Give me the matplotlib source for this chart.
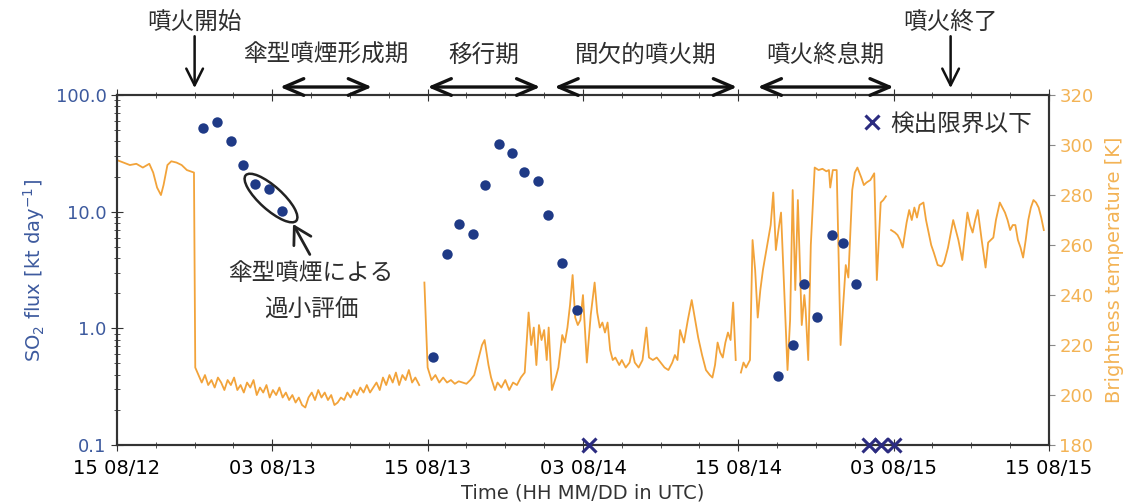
import numpy as np
import matplotlib
matplotlib.use("Agg")
import matplotlib.pyplot as plt
from matplotlib.ticker import MultipleLocator, LogLocator, NullFormatter
from matplotlib.patches import Ellipse
import matplotlib.transforms as mtransforms

plt.rcParams["font.family"] = ["DejaVu Sans", "Noto Sans CJK JP"]

# hours since 15 UTC 08/12
x_ticks = [0, 12, 24, 36, 48, 60, 72]
x_tick_labels = ["15 08/12", "03 08/13", "15 08/13", "03 08/14", "15 08/14", "03 08/15", "15 08/15"]
y_ticks = [0.1, 1, 10, 100]
y_tick_labels = ["0.1", "1.0", "10.0", "100.0"]

# SO2 flux (kt/day)
flux_hours = [6.65, 7.75, 8.8, 9.76, 10.7, 11.75, 12.75,
              24.4, 25.5, 26.4, 27.5, 28.4, 29.5, 30.5, 31.45, 32.5, 33.3, 34.4, 35.5,
              51.1, 52.2, 53.1, 54.1, 55.2, 56.1, 57.1]
flux = [52.5, 59, 40, 25, 17.2, 15.6, 10.1,
        0.57, 4.3, 7.8, 6.4, 16.9, 38, 31.7, 22, 18.5, 9.3, 3.6, 1.44,
        0.39, 0.72, 2.39, 1.24, 6.3, 5.36, 2.39]

# below detection limit
bdl_hours = [36.5, 58.1, 59.0, 60.0]
bdl_flux = [0.1, 0.1, 0.1, 0.1]

# brightness temperature (K), nan = gap
bt_hours = [0, 0.5, 1.0, 1.5, 2.0, 2.5, 2.8, 3.1, 3.4, 3.6, 3.9, 4.2, 4.6, 5.0, 5.4, 5.95,
            6.05, 6.3, 6.55, 6.8, 7.05, 7.3, 7.55, 7.8, 8.05, 8.3, 8.55, 8.8, 9.05, 9.3, 9.55, 9.8,
            10.05, 10.3, 10.55, 10.8, 11.05, 11.3, 11.55, 11.8, 12.05, 12.3, 12.55, 12.8, 13.05, 13.3,
            13.55, 13.8, 14.05, 14.3, 14.55, 14.8, 15.05, 15.3, 15.55, 15.8, 16.05, 16.3, 16.55, 16.8,
            17.05, 17.3, 17.55, 17.8, 18.05, 18.3, 18.55, 18.8, 19.05, 19.3, 19.55, 19.8, 20.05, 20.3,
            20.55, 20.8, 21.05, 21.3, 21.55, 21.8, 22.05, 22.3, 22.55, 22.8, 23.05, 23.35,
            23.55,
            23.75, 24.0, 24.3, 24.6, 24.9, 25.2, 25.5, 25.8, 26.1, 26.4, 26.7, 27.0, 27.3, 27.6, 27.9,
            28.2, 28.4, 28.7, 28.9, 29.2, 29.4, 29.7, 30.0, 30.3, 30.6, 30.9, 31.2, 31.5, 31.8, 32.0,
            32.2, 32.4, 32.6, 32.8, 33.0, 33.2, 33.35, 33.6, 33.9, 34.1, 34.4, 34.6, 34.8, 35.0, 35.2,
            35.4, 35.6, 35.8, 36.0, 36.3, 36.6, 36.9, 37.1, 37.3, 37.5, 37.7, 37.9, 38.1, 38.3, 38.5,
            38.8, 39.0, 39.3, 39.6, 39.8, 40.0, 40.3, 40.6, 40.9, 41.1, 41.4, 41.7, 42.0, 42.3, 42.6,
            42.9, 43.1, 43.3, 43.5, 43.8, 44.1, 44.4, 44.7, 44.9, 45.2, 45.5, 45.8, 46.0, 46.2, 46.4,
            46.6, 46.8, 47.0, 47.2, 47.4, 47.6, 47.8,
            48.0,
            48.2, 48.4, 48.6, 48.9, 49.1, 49.3, 49.5, 49.7, 49.9, 50.2, 50.5, 50.7, 50.9, 51.1, 51.3,
            51.5, 51.8, 52.0, 52.2, 52.4, 52.6, 52.8, 52.9, 53.1, 53.2, 53.4, 53.6, 53.9, 54.2, 54.5,
            54.8, 55.0, 55.1, 55.3, 55.6, 55.9, 56.1, 56.3, 56.5, 56.8, 57.0, 57.2, 57.5, 57.7, 57.9,
            58.2, 58.5, 58.7, 59.0, 59.2, 59.4,
            59.6,
            59.8, 60.1, 60.3, 60.5, 60.7, 61.0, 61.2, 61.4, 61.6, 61.8, 62.0, 62.3, 62.5, 62.7, 62.9,
            63.1, 63.4, 63.7, 63.9, 64.2, 64.6, 64.8, 65.0, 65.3, 65.7, 65.9, 66.1, 66.3, 66.5, 66.8,
            67.1, 67.3, 67.5, 67.7, 67.9, 68.2, 68.4, 68.6, 68.8, 69.0, 69.2, 69.4, 69.6, 69.8, 70.0,
            70.2, 70.4, 70.6, 70.8, 71.0, 71.2, 71.4, 71.6]
bt_temp = [294, 293, 292, 292.5, 291, 292.5, 289, 283, 280, 284, 292, 293.5, 293, 292, 290, 289,
           211, 208, 205, 208, 204, 206, 203, 207, 205, 202, 206, 204, 207, 202, 204, 201,
           205, 203, 206, 200, 203, 201, 204, 199, 202, 200, 203, 199, 201, 198,
           200, 197, 199, 196, 195, 199, 201, 198, 202, 199, 201, 198, 200, 196,
           197, 199, 198, 201, 199, 202, 200, 203, 201, 204, 201, 203, 205, 202,
           207, 204, 208, 205, 209, 204, 208, 206, 210, 205, 207, 204,
           np.nan,
           245, 211, 206, 208, 205, 207, 205, 206, 204.5, 205.5, 205, 204.5, 206, 208, 214,
           220, 222, 212, 207, 202, 205, 203, 206, 202, 205, 204, 207, 209, 233, 220,
           227, 212, 228, 222, 226, 214, 227, 202, 207, 211, 224, 221, 227, 236, 248,
           231, 228, 230, 240, 213, 232, 245, 233, 227, 229, 225, 229, 218, 214, 215,
           212, 214, 211, 213, 218, 213, 211, 214, 227, 215, 214, 215, 213, 211, 210,
           213, 216, 214, 226, 221, 230, 238, 229, 223, 216, 210, 208, 207, 212, 221,
           217, 215, 221, 225, 222, 237, 214,
           np.nan,
           209, 213, 211, 214, 262, 250, 231, 242, 250, 259, 268, 281, 258, 266, 273,
           248, 210, 230, 282, 242, 278, 245, 228, 240, 234, 214, 260, 291, 290, 290.5,
           289.5, 290, 283, 290, 290, 220, 236, 252, 247, 282, 289, 291, 287, 284, 285,
           286, 288.7, 246, 277, 278, 279.5,
           np.nan,
           266, 265, 264, 262, 259, 269, 274, 270, 275, 271, 276, 277, 270, 265, 260,
           257, 252, 251.5, 253, 259, 270, 266, 262, 254, 273, 268, 265, 270, 274, 262,
           251, 261, 262, 263, 270, 277, 275, 273, 270, 266, 268, 268, 262, 259, 255,
           262, 270, 275, 278, 277, 275, 271, 266]

# period annotations: (label, start, end)
periods = [("傘型噴煙形成期", 12.6, 19.7),
           ("移行期", 24.0, 32.7),
           ("間欠的噴火期", 33.8, 47.9),
           ("噴火終息期", 49.5, 60.0)]
events = [("噴火開始", 6.0), ("噴火終了", 64.4)]

blue_lbl = "#3D5A9E"
orange = "#F2A33A"
orange_lbl = "#F3B355"
navy_dot = "#1F3A86"
navy_x = "#2B2B80"
jp_col = "#2E2E2E"

fig = plt.figure(figsize=(11.31, 5.04), dpi=100)
ax = fig.add_axes([0.1034, 0.117, 0.8241, 0.6944])
ax2 = ax.twinx()

ax2.plot(bt_hours, bt_temp, color=orange, lw=1.3)
ax2.set_ylim(180, 320)
ax2.set_yticks(range(180, 321, 20))
ax2.tick_params(axis="y", colors="#888888", labelcolor=orange_lbl, labelsize=13, direction="out", length=4)
ax2.set_ylabel("Brightness temperature [K]", color=orange_lbl, fontsize=14, labelpad=8)

ax.set_zorder(ax2.get_zorder() + 1)
ax.patch.set_visible(False)

ax.plot(flux_hours, flux, "o", color=navy_dot, ms=7.5, mec="none")
ax.plot(bdl_hours, bdl_flux, "x", color=navy_x, ms=10, mew=2.2, clip_on=False, zorder=5,
        linestyle="none", label="検出限界以下")

ax.set_yscale("log")
ax.set_ylim(0.1, 100)
ax.set_yticks(y_ticks)
ax.set_yticklabels(y_tick_labels)
ax.yaxis.set_minor_locator(LogLocator(base=10, subs=np.arange(2, 10)))
ax.yaxis.set_minor_formatter(NullFormatter())
ax.set_xlim(0, 72)
ax.set_xticks(x_ticks)
ax.set_xticklabels(x_tick_labels)
ax.xaxis.set_minor_locator(MultipleLocator(3))
ax.tick_params(axis="x", which="both", top=True, direction="inout", labelsize=14, pad=6, color="#333333")
ax.tick_params(axis="x", which="major", length=8)
ax.tick_params(axis="x", which="minor", length=5)
ax.tick_params(axis="y", which="both", direction="inout", labelcolor=blue_lbl, labelsize=13, color="#333333")
ax.tick_params(axis="y", which="major", length=8)
ax.tick_params(axis="y", which="minor", length=5)
ax.set_ylabel("SO$_2$ flux [kt day$^{-1}$]", color=blue_lbl, fontsize=14, labelpad=6)
ax.set_xlabel("Time (HH MM/DD in UTC)", fontsize=14, color="#333333", labelpad=4)
for a in (ax, ax2):
    for s in a.spines.values():
        s.set_linewidth(1.5)
        s.set_color("#333333")

leg = ax.legend(loc="upper right", frameon=False, fontsize=17, handletextpad=0.3,
                handlelength=1.0, borderaxespad=0.3, labelcolor=jp_col)

# ellipse and note for umbrella-cloud underestimate
etrans = fig.dpi_scale_trans + mtransforms.ScaledTranslation(11.9, 13.1, ax.transData)
ax.add_patch(Ellipse((0, 0), 0.68, 0.23, angle=-42, transform=etrans, fill=False,
                     ec="#222222", lw=1.8, zorder=6))
ax.annotate("", xy=(13.6, 7.85), xytext=(14.9, 4.3),
            arrowprops=dict(arrowstyle="->,head_length=0.6,head_width=0.35", lw=2, color="#222222",
                            shrinkA=0, shrinkB=0, mutation_scale=20))
ax.text(15.0, 2.98, "傘型噴煙による", fontsize=17, color=jp_col, ha="center", va="center")
ax.text(15.0, 1.44, "過小評価", fontsize=17, color=jp_col, ha="center", va="center")

# period arrows above the axes
trans = mtransforms.blended_transform_factory(ax.transData, ax.transAxes)
for label, x1, x2 in periods:
    ax.annotate("", xy=(x2, 1.023), xytext=(x1, 1.023), xycoords=trans, textcoords=trans,
                annotation_clip=False,
                arrowprops=dict(arrowstyle="<->,head_length=0.7,head_width=0.3", lw=2.4, color="#111111",
                                shrinkA=0, shrinkB=0, mutation_scale=20))
    ax.text((x1 + x2) / 2, 1.114, label, transform=trans, fontsize=17, color=jp_col,
            ha="center", va="center")
for label, xe in events:
    ax.annotate("", xy=(xe, 1.02), xytext=(xe, 1.168), xycoords=trans, textcoords=trans,
                annotation_clip=False,
                arrowprops=dict(arrowstyle="->,head_length=0.6,head_width=0.3", lw=1.8, color="#111111",
                                shrinkA=0, shrinkB=0, mutation_scale=20))
    ax.text(xe, 1.21, label, transform=trans, fontsize=17, color=jp_col, ha="center", va="center")

fig.savefig("out.png", dpi=100)
